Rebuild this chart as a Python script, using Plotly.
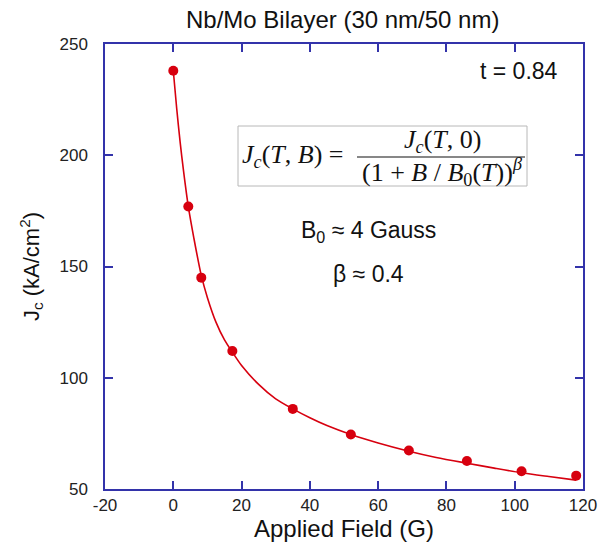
import plotly.graph_objects as go

# Measured data
field_G = [0, 4.4, 8.2, 17.3, 35, 52, 69, 86, 102, 118]
jc_kA = [238, 177, 145, 112, 86, 74.5, 67.3, 62.6, 58, 56]

# Fit curve
fit_x = [0, 1, 2, 3, 4.4, 6, 8.2, 10, 12.5, 15, 17.3, 20, 25, 30, 35, 40, 45, 52, 60, 69, 77, 86, 94, 102, 110, 118]
fit_y = [238, 221, 206, 193, 177, 163, 146, 136, 125, 117, 111.5, 105.5, 97, 90.5, 86, 82, 78.5, 74.5, 70.7, 67, 64.2, 61.6, 59.4, 57.3, 55.6, 54]

x_ticks = [-20, 0, 20, 40, 60, 80, 100, 120]
y_ticks = [50, 100, 150, 200, 250]

RED = "#d7000f"
AXIS = "#3333aa"
FONT = "Liberation Sans, Arial, Helvetica, sans-serif"
SERIF = "Liberation Serif, DejaVu Serif, serif"
TXT = "#111111"

fig = go.Figure()
fig.add_trace(go.Scatter(x=fit_x, y=fit_y, mode="lines",
                         line=dict(color=RED, width=1.6, shape="spline", smoothing=0.8),
                         hoverinfo="skip", showlegend=False))
fig.add_trace(go.Scatter(x=field_G, y=jc_kA, mode="markers",
                         marker=dict(color=RED, size=10), showlegend=False))

L, R, T, B = 105, 15, 44, 58
W, H = 598, 547
pw, ph = W - L - R, H - T - B

def px(x):
    return (x - L) / pw

def py(y):
    return (H - B - y) / ph

axis_common = dict(showgrid=False, zeroline=False, showline=True, linecolor=AXIS, linewidth=1.5,
                   mirror="ticks", ticks="inside", ticklen=8, tickwidth=1.5, tickcolor=AXIS,
                   automargin=False,
                   tickfont=dict(family=FONT, size=17, color="#222222"))

fig.update_xaxes(range=[-20, 120], tickvals=x_ticks, ticktext=[str(v) for v in x_ticks],
                 title=dict(text="Applied Field (G)", font=dict(family=FONT, size=24, color=TXT), standoff=6),
                 **axis_common)
fig.update_yaxes(range=[50, 250], tickvals=y_ticks, ticktext=[str(v) for v in y_ticks],
                 title=dict(text="J<sub>c</sub> (kA/cm<sup>2</sup>)", font=dict(family=FONT, size=22, color=TXT), standoff=14),
                 ticklabelstandoff=12, **axis_common)

annotations = [
    dict(text="Nb/Mo Bilayer (30 nm/50 nm)", x=px(342), y=py(20), xref="paper", yref="paper",
         showarrow=False, font=dict(family=FONT, size=24, color=TXT), xanchor="center", yanchor="middle"),
    dict(text="t = 0.84", x=px(560), y=py(71), xref="paper", yref="paper",
         showarrow=False, font=dict(family=FONT, size=23, color=TXT), xanchor="right", yanchor="middle"),
    dict(text="B<sub>0</sub> ≈ 4 Gauss", x=px(368), y=py(231), xref="paper", yref="paper",
         showarrow=False, font=dict(family=FONT, size=23, color=TXT), xanchor="center", yanchor="middle"),
    dict(text="β ≈ 0.4", x=px(368), y=py(274), xref="paper", yref="paper",
         showarrow=False, font=dict(family=FONT, size=23, color=TXT), xanchor="center", yanchor="middle"),
    dict(text="<i>J<sub>c</sub></i>(<i>T</i>, <i>B</i>) =", x=px(240), y=py(156), xref="paper", yref="paper",
         showarrow=False, font=dict(family=SERIF, size=26, color=TXT), xanchor="left", yanchor="middle"),
    dict(text="<i>J<sub>c</sub></i>(<i>T</i>, 0)", x=px(442), y=py(141), xref="paper", yref="paper",
         showarrow=False, font=dict(family=SERIF, size=26, color=TXT), xanchor="center", yanchor="middle"),
    dict(text="(1 + <i>B</i> / <i>B</i><sub>0</sub>(<i>T</i>))<sup><i>β</i></sup>", x=px(442), y=py(172), xref="paper", yref="paper",
         showarrow=False, font=dict(family=SERIF, size=26, color=TXT), xanchor="center", yanchor="middle"),
]

shapes = [
    dict(type="rect", xref="paper", yref="paper", x0=px(238), x1=px(527), y0=py(186), y1=py(126),
         line=dict(color="#b8b8b8", width=1)),
    dict(type="line", xref="paper", yref="paper", x0=px(357), x1=px(525), y0=py(157), y1=py(157),
         line=dict(color=TXT, width=1.2)),
]

fig.update_layout(width=W, height=H, margin=dict(l=L, r=R, t=T, b=B),
                  plot_bgcolor="white", paper_bgcolor="white",
                  annotations=annotations, shapes=shapes, font=dict(family=FONT))

fig.write_html("out.html")
